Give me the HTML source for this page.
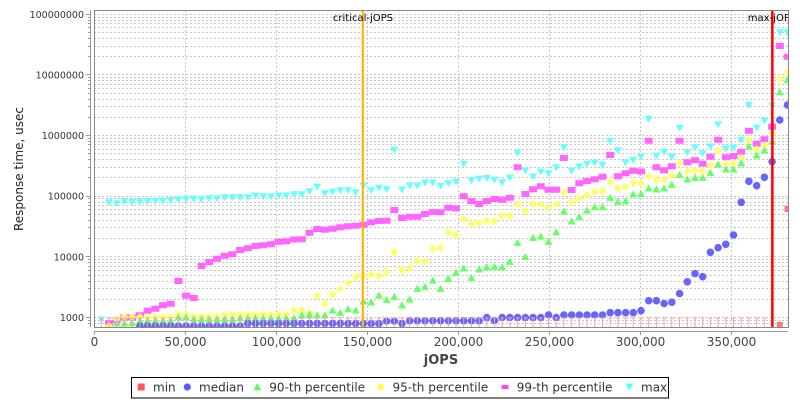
<!DOCTYPE html>
<html><head><meta charset="utf-8"><style>
body{margin:0;background:#fff}
svg{display:block}
text{font-family:"DejaVu Sans","Liberation Sans",sans-serif}
</style></head><body>
<svg width="800" height="400" viewBox="0 0 800 400" xmlns="http://www.w3.org/2000/svg">
<defs><clipPath id="pc"><rect x="94" y="10" width="694" height="317"/></clipPath></defs>
<rect x="0" y="0" width="800" height="400" fill="#fff"/>
<rect x="94" y="10" width="694" height="317" fill="#fff"/>
<g clip-path="url(#pc)">
<path fill="none" stroke="#c8c8c8" stroke-width="1" stroke-dasharray="2,2" d="M94,323.5H788M94,320.5H788M94,317.5H788M94,299.5H788M94,288.5H788M94,281.5H788M94,275.5H788M94,270.5H788M94,266.5H788M94,262.5H788M94,259.5H788M94,256.5H788M94,238.5H788M94,227.5H788M94,220.5H788M94,214.5H788M94,209.5H788M94,205.5H788M94,202.5H788M94,198.5H788M94,196.5H788M94,177.5H788M94,167.5H788M94,159.5H788M94,153.5H788M94,149.5H788M94,144.5H788M94,141.5H788M94,138.5H788M94,135.5H788M94,117.5H788M94,106.5H788M94,99.5H788M94,93.5H788M94,88.5H788M94,84.5H788M94,80.5H788M94,77.5H788M94,74.5H788M94,56.5H788M94,46.5H788M94,38.5H788M94,32.5H788M94,27.5H788M94,23.5H788M94,20.5H788M94,17.5H788M94,14.5H788M185.5,10V327M276.5,10V327M367.5,10V327M458.5,10V327M549.5,10V327M640.5,10V327M731.5,10V327"/>
<!-- max -->
<path fill="#66ffff" d="M97.3,316.5h8l-4,7zM105,199.2h8l-4,7zM112.7,200.2h8l-4,7zM120.4,198.5h8l-4,7zM128.1,198.8h8l-4,7zM135.9,198.5h8l-4,7zM143.6,198.2h8l-4,7zM151.3,197.8h8l-4,7zM159,197.8h8l-4,7zM166.7,197.2h8l-4,7zM174.4,196.5h8l-4,7zM182.1,195.8h8l-4,7zM189.8,195.5h8l-4,7zM197.5,196.2h8l-4,7zM205.2,195.2h8l-4,7zM213,195.2h8l-4,7zM220.7,194.2h8l-4,7zM228.4,194.2h8l-4,7zM236.1,194.2h8l-4,7zM243.8,194.2h8l-4,7zM251.5,192.5h8l-4,7zM259.2,193.2h8l-4,7zM266.9,193.5h8l-4,7zM274.6,192.5h8l-4,7zM282.3,192.5h8l-4,7zM290.1,191.2h8l-4,7zM297.8,191.2h8l-4,7zM305.5,188.2h8l-4,7zM313.2,183.8h8l-4,7zM320.9,190.2h8l-4,7zM328.6,188.5h8l-4,7zM336.3,187.2h8l-4,7zM344,187.2h8l-4,7zM351.7,189.2h8l-4,7zM359.4,182.5h8l-4,7zM367.2,187.2h8l-4,7zM374.9,184.8h8l-4,7zM382.6,186.2h8l-4,7zM390.3,146.5h8l-4,7zM398,186.5h8l-4,7zM405.7,182.5h8l-4,7zM413.4,182.5h8l-4,7zM421.1,179.5h8l-4,7zM428.8,179.5h8l-4,7zM436.5,182.8h8l-4,7zM444.3,180.2h8l-4,7zM452,178.8h8l-4,7zM459.7,160.8h8l-4,7zM467.4,177.2h8l-4,7zM475.1,175.8h8l-4,7zM482.8,175h8l-4,7zM490.5,176.8h8l-4,7zM498.2,179.2h8l-4,7zM505.9,174.5h8l-4,7zM513.6,149.8h8l-4,7zM521.4,167.5h8l-4,7zM529.1,173.5h8l-4,7zM536.8,168.5h8l-4,7zM544.5,170.2h8l-4,7zM552.2,164.2h8l-4,7zM559.9,144.2h8l-4,7zM567.6,167.8h8l-4,7zM575.3,163.5h8l-4,7zM583,160.8h8l-4,7zM590.7,159.5h8l-4,7zM598.5,161.8h8l-4,7zM606.2,137.8h8l-4,7zM613.9,147.2h8l-4,7zM621.6,159.2h8l-4,7zM629.3,157h8l-4,7zM637,153.5h8l-4,7zM644.7,115.8h8l-4,7zM652.4,152.5h8l-4,7zM660.1,148.8h8l-4,7zM667.8,153.8h8l-4,7zM675.6,124.8h8l-4,7zM683.3,149.2h8l-4,7zM691,144.5h8l-4,7zM698.7,150.2h8l-4,7zM706.4,143.5h8l-4,7zM714.1,121.2h8l-4,7zM721.8,145.5h8l-4,7zM729.5,144.5h8l-4,7zM737.2,136.8h8l-4,7zM744.9,101.8h8l-4,7zM752.7,124.8h8l-4,7zM760.4,117.5h8l-4,7zM768.1,102.5h8l-4,7zM775.8,29.2h8l-4,7zM783.5,29.2h8l-4,7z"/>
<!-- 99th -->
<path fill="#ff66ff" d="M105,320.3h8v6h-8zM112.7,317.3h8v6h-8zM120.4,314.5h8v6h-8zM128.1,314.5h8v6h-8zM135.9,312.2h8v6h-8zM143.6,307.7h8v6h-8zM151.3,305.7h8v6h-8zM159,302.3h8v6h-8zM166.7,300.7h8v6h-8zM174.4,278h8v6h-8zM182.1,292.7h8v6h-8zM189.8,295h8v6h-8zM197.5,263h8v6h-8zM205.2,259h8v6h-8zM213,255.7h8v6h-8zM220.7,252.7h8v6h-8zM228.4,251.3h8v6h-8zM236.1,247h8v6h-8zM243.8,245.3h8v6h-8zM251.5,243h8v6h-8zM259.2,242.3h8v6h-8zM266.9,241.3h8v6h-8zM274.6,238.7h8v6h-8zM282.3,238.3h8v6h-8zM290.1,236.5h8v6h-8zM297.8,236.3h8v6h-8zM305.5,229.7h8v6h-8zM313.2,226h8v6h-8zM320.9,226.7h8v6h-8zM328.6,225.7h8v6h-8zM336.3,224.3h8v6h-8zM344,223.3h8v6h-8zM351.7,222.7h8v6h-8zM359.4,221.7h8v6h-8zM367.2,219.3h8v6h-8zM374.9,218h8v6h-8zM382.6,217.7h8v6h-8zM390.3,207h8v6h-8zM398,215h8v6h-8zM405.7,213.7h8v6h-8zM413.4,213.7h8v6h-8zM421.1,211h8v6h-8zM428.8,209h8v6h-8zM436.5,209.3h8v6h-8zM444.3,204.7h8v6h-8zM452,205.3h8v6h-8zM459.7,193.3h8v6h-8zM467.4,198h8v6h-8zM475.1,201h8v6h-8zM482.8,198h8v6h-8zM490.5,196h8v6h-8zM498.2,196.7h8v6h-8zM505.9,194.7h8v6h-8zM513.6,164.3h8v6h-8zM521.4,191h8v6h-8zM529.1,186.3h8v6h-8zM536.8,183.3h8v6h-8zM544.5,186.7h8v6h-8zM552.2,186.7h8v6h-8zM559.9,155h8v6h-8zM567.6,187h8v6h-8zM575.3,180.3h8v6h-8zM583,178h8v6h-8zM590.7,176.3h8v6h-8zM598.5,173.7h8v6h-8zM606.2,152h8v6h-8zM613.9,173.3h8v6h-8zM621.6,170.3h8v6h-8zM629.3,167.7h8v6h-8zM637,168.5h8v6h-8zM644.7,137.7h8v6h-8zM652.4,164.3h8v6h-8zM660.1,167.3h8v6h-8zM667.8,163.3h8v6h-8zM675.6,137.7h8v6h-8zM683.3,159.3h8v6h-8zM691,157.3h8v6h-8zM698.7,160.7h8v6h-8zM706.4,153.7h8v6h-8zM714.1,136.7h8v6h-8zM721.8,154.3h8v6h-8zM729.5,153h8v6h-8zM737.2,148.7h8v6h-8zM744.9,127.7h8v6h-8zM752.7,140.7h8v6h-8zM760.4,136.3h8v6h-8zM768.1,123.7h8v6h-8zM775.8,43h8v6h-8zM783.5,53.7h8v6h-8z"/>
<!-- 95th -->
<path fill="#ffff66" d="M109,322l4,4-4,4-4-4zM116.7,315l4,4-4,4-4-4zM124.4,313l4,4-4,4-4-4zM132.1,313l4,4-4,4-4-4zM139.9,313l4,4-4,4-4-4zM147.6,313l4,4-4,4-4-4zM155.3,313l4,4-4,4-4-4zM163,313l4,4-4,4-4-4zM170.7,313l4,4-4,4-4-4zM178.4,310.5l4,4-4,4-4-4zM186.1,310.5l4,4-4,4-4-4zM193.8,312.5l4,4-4,4-4-4zM201.5,312.5l4,4-4,4-4-4zM209.2,312.5l4,4-4,4-4-4zM217,312.5l4,4-4,4-4-4zM224.7,310.5l4,4-4,4-4-4zM232.4,310.5l4,4-4,4-4-4zM240.1,310.5l4,4-4,4-4-4zM247.8,310.5l4,4-4,4-4-4zM255.5,310.5l4,4-4,4-4-4zM263.2,310.5l4,4-4,4-4-4zM270.9,310.5l4,4-4,4-4-4zM278.6,310.5l4,4-4,4-4-4zM286.3,310.5l4,4-4,4-4-4zM294.1,306.5l4,4-4,4-4-4zM301.8,306.3l4,4-4,4-4-4zM309.5,309l4,4-4,4-4-4zM317.2,291.7l4,4-4,4-4-4zM324.9,299.7l4,4-4,4-4-4zM332.6,290.7l4,4-4,4-4-4zM340.3,284.7l4,4-4,4-4-4zM348,279l4,4-4,4-4-4zM355.7,273l4,4-4,4-4-4zM363.4,272l4,4-4,4-4-4zM371.2,270.7l4,4-4,4-4-4zM378.9,272l4,4-4,4-4-4zM386.6,268.3l4,4-4,4-4-4zM394.3,248.3l4,4-4,4-4-4zM402,266.3l4,4-4,4-4-4zM409.7,263.7l4,4-4,4-4-4zM417.4,256.7l4,4-4,4-4-4zM425.1,257.7l4,4-4,4-4-4zM432.8,245l4,4-4,4-4-4zM440.5,243.7l4,4-4,4-4-4zM448.3,228.7l4,4-4,4-4-4zM456,231l4,4-4,4-4-4zM463.7,215.3l4,4-4,4-4-4zM471.4,220l4,4-4,4-4-4zM479.1,219l4,4-4,4-4-4zM486.8,216.5l4,4-4,4-4-4zM494.5,217l4,4-4,4-4-4zM502.2,211.7l4,4-4,4-4-4zM509.9,211.7l4,4-4,4-4-4zM517.6,200.3l4,4-4,4-4-4zM525.4,207l4,4-4,4-4-4zM533.1,199.7l4,4-4,4-4-4zM540.8,200.3l4,4-4,4-4-4zM548.5,203.7l4,4-4,4-4-4zM556.2,200.3l4,4-4,4-4-4zM563.9,188.3l4,4-4,4-4-4zM571.6,197.7l4,4-4,4-4-4zM579.3,194.3l4,4-4,4-4-4zM587,191l4,4-4,4-4-4zM594.7,187.7l4,4-4,4-4-4zM602.5,187.3l4,4-4,4-4-4zM610.2,178l4,4-4,4-4-4zM617.9,184.3l4,4-4,4-4-4zM625.6,183l4,4-4,4-4-4zM633.3,179l4,4-4,4-4-4zM641,179.3l4,4-4,4-4-4zM648.7,172.3l4,4-4,4-4-4zM656.4,175.7l4,4-4,4-4-4zM664.1,175.7l4,4-4,4-4-4zM671.8,171.7l4,4-4,4-4-4zM679.6,159.3l4,4-4,4-4-4zM687.3,167.3l4,4-4,4-4-4zM695,166.7l4,4-4,4-4-4zM702.7,166.7l4,4-4,4-4-4zM710.4,161.3l4,4-4,4-4-4zM718.1,147l4,4-4,4-4-4zM725.8,159.7l4,4-4,4-4-4zM733.5,159l4,4-4,4-4-4zM741.2,153.7l4,4-4,4-4-4zM748.9,136l4,4-4,4-4-4zM756.7,145.3l4,4-4,4-4-4zM764.4,141.3l4,4-4,4-4-4zM772.1,129.3l4,4-4,4-4-4zM779.8,75.3l4,4-4,4-4-4zM787.5,68l4,4-4,4-4-4z"/>
<!-- 90th -->
<path fill="#66ff66" d="M116.7,319.5l4,7h-8zM124.4,319.5l4,7h-8zM132.1,319.2l4,7h-8zM139.9,316.7l4,7h-8zM147.6,316.7l4,7h-8zM155.3,316.7l4,7h-8zM163,316.7l4,7h-8zM170.7,316.7l4,7h-8zM178.4,313.5l4,7h-8zM186.1,313.5l4,7h-8zM193.8,315.2l4,7h-8zM201.5,315.2l4,7h-8zM209.2,315.2l4,7h-8zM217,315.2l4,7h-8zM224.7,315.2l4,7h-8zM232.4,315.2l4,7h-8zM240.1,314.2l4,7h-8zM247.8,314.2l4,7h-8zM255.5,314.2l4,7h-8zM263.2,314.2l4,7h-8zM270.9,314.2l4,7h-8zM278.6,314.2l4,7h-8zM286.3,314.2l4,7h-8zM294.1,314.2l4,7h-8zM301.8,311.2l4,7h-8zM309.5,310.5l4,7h-8zM317.2,311.2l4,7h-8zM324.9,311.2l4,7h-8zM332.6,306.5l4,7h-8zM340.3,308.9l4,7h-8zM348,305.2l4,7h-8zM355.7,306.5l4,7h-8zM363.4,297.5l4,7h-8zM371.2,298.5l4,7h-8zM378.9,291.5l4,7h-8zM386.6,295.9l4,7h-8zM394.3,292.9l4,7h-8zM402,301.5l4,7h-8zM409.7,295.5l4,7h-8zM417.4,284.9l4,7h-8zM425.1,282.9l4,7h-8zM432.8,276.5l4,7h-8zM440.5,284.9l4,7h-8zM448.3,274.9l4,7h-8zM456,268.9l4,7h-8zM463.7,264.5l4,7h-8zM471.4,273.9l4,7h-8zM479.1,265.5l4,7h-8zM486.8,263.2l4,7h-8zM494.5,262.9l4,7h-8zM502.2,263.2l4,7h-8zM509.9,257.9l4,7h-8zM517.6,238.9l4,7h-8zM525.4,252.9l4,7h-8zM533.1,233.9l4,7h-8zM540.8,232.5l4,7h-8zM548.5,237.9l4,7h-8zM556.2,228.2l4,7h-8zM563.9,207.5l4,7h-8zM571.6,217.5l4,7h-8zM579.3,212.9l4,7h-8zM587,206.5l4,7h-8zM594.7,203.2l4,7h-8zM602.5,203.2l4,7h-8zM610.2,193.9l4,7h-8zM617.9,197.9l4,7h-8zM625.6,197.2l4,7h-8zM633.3,190.4l4,7h-8zM641,190l4,7h-8zM648.7,184.5l4,7h-8zM656.4,185.5l4,7h-8zM664.1,184.5l4,7h-8zM671.8,180.9l4,7h-8zM679.6,170.9l4,7h-8zM687.3,175.5l4,7h-8zM695,173.9l4,7h-8zM702.7,173.9l4,7h-8zM710.4,168.9l4,7h-8zM718.1,160.5l4,7h-8zM725.8,165.5l4,7h-8zM733.5,165.5l4,7h-8zM741.2,159.5l4,7h-8zM748.9,142.5l4,7h-8zM756.7,151.5l4,7h-8zM764.4,146.5l4,7h-8zM772.1,137.5l4,7h-8zM779.8,88.2l4,7h-8zM787.5,75.9l4,7h-8z"/>
<!-- median -->
<path fill="none" stroke="#6666ff" stroke-width="7.6" stroke-linecap="round" d="M139.9,326h0M147.6,326h0M155.3,326h0M163,326h0M170.7,326h0M178.4,326h0M186.1,326h0M193.8,326h0M201.5,326h0M209.2,326h0M217,326h0M224.7,326h0M232.4,326h0M240.1,326h0M247.8,323.5h0M255.5,323.5h0M263.2,323.5h0M270.9,323.5h0M278.6,323.5h0M286.3,323.5h0M294.1,323.5h0M301.8,323.5h0M309.5,323.5h0M317.2,323.5h0M324.9,323.5h0M332.6,323.5h0M340.3,323.5h0M348,323.5h0M355.7,323.5h0M363.4,323.5h0M371.2,323.5h0M378.9,323.5h0M386.6,321h0M394.3,321h0M402,323.5h0M409.7,320.7h0M417.4,320.7h0M425.1,320.7h0M432.8,320.7h0M440.5,320.7h0M448.3,320.7h0M456,320.7h0M463.7,320.7h0M471.4,320.7h0M479.1,320.7h0M486.8,317.7h0M494.5,320.5h0M502.2,317.5h0M509.9,317.5h0M517.6,317.5h0M525.4,317.5h0M533.1,317.5h0M540.8,317.5h0M548.5,315h0M556.2,317.5h0M563.9,315h0M571.6,315h0M579.3,315h0M587,315h0M594.7,315h0M602.5,315h0M610.2,312.7h0M617.9,312.7h0M625.6,312.7h0M633.3,312.7h0M641,310.7h0M648.7,300.7h0M656.4,300.7h0M664.1,303.5h0M671.8,302.2h0M679.6,293.5h0M687.3,281.8h0M695,273.6h0M702.7,276.7h0M710.4,252.3h0M718.1,247.7h0M725.8,244.3h0M733.5,235h0M741.2,202.3h0M748.9,181.3h0M756.7,185.7h0M764.4,177.3h0M772.1,161.7h0M779.8,120h0M787.5,105h0"/>
<!-- min -->
<path fill="none" stroke="#ffa0a0" stroke-width="1" d="M101.3,318v9m-2-9h4M109,318v9m-2-9h4M116.7,318v9m-2-9h4M124.4,318v9m-2-9h4M132.1,318v9m-2-9h4M139.9,318v9m-2-9h4M147.6,318v9m-2-9h4M155.3,318v9m-2-9h4M163,318v9m-2-9h4M170.7,318v9m-2-9h4M178.4,318v9m-2-9h4M186.1,318v9m-2-9h4M193.8,318v9m-2-9h4M201.5,318v9m-2-9h4M209.2,318v9m-2-9h4M217,318v9m-2-9h4M224.7,318v9m-2-9h4M232.4,318v9m-2-9h4M240.1,318v9m-2-9h4M247.8,318v9m-2-9h4M255.5,318v9m-2-9h4M263.2,318v9m-2-9h4M270.9,318v9m-2-9h4M278.6,318v9m-2-9h4M286.3,318v9m-2-9h4M294.1,318v9m-2-9h4M301.8,318v9m-2-9h4M309.5,318v9m-2-9h4M317.2,318v9m-2-9h4M324.9,318v9m-2-9h4M332.6,318v9m-2-9h4M340.3,318v9m-2-9h4M348,318v9m-2-9h4M355.7,318v9m-2-9h4M363.4,318v9m-2-9h4M371.2,318v9m-2-9h4M378.9,318v9m-2-9h4M386.6,318v9m-2-9h4M394.3,318v9m-2-9h4M402,318v9m-2-9h4M409.7,318v9m-2-9h4M417.4,318v9m-2-9h4M425.1,318v9m-2-9h4M432.8,318v9m-2-9h4M440.5,318v9m-2-9h4M448.3,318v9m-2-9h4M456,318v9m-2-9h4M463.7,318v9m-2-9h4M471.4,318v9m-2-9h4M479.1,318v9m-2-9h4M486.8,318v9m-2-9h4M494.5,318v9m-2-9h4M502.2,318v9m-2-9h4M509.9,318v9m-2-9h4M517.6,318v9m-2-9h4M525.4,318v9m-2-9h4M533.1,318v9m-2-9h4M540.8,318v9m-2-9h4M548.5,318v9m-2-9h4M556.2,318v9m-2-9h4M563.9,318v9m-2-9h4M571.6,318v9m-2-9h4M579.3,318v9m-2-9h4M587,318v9m-2-9h4M594.7,318v9m-2-9h4M602.5,318v9m-2-9h4M610.2,318v9m-2-9h4M617.9,318v9m-2-9h4M625.6,318v9m-2-9h4M633.3,318v9m-2-9h4M641,318v9m-2-9h4M648.7,318v9m-2-9h4M656.4,318v9m-2-9h4M664.1,318v9m-2-9h4M671.8,318v9m-2-9h4M679.6,318v9m-2-9h4M687.3,318v9m-2-9h4M695,318v9m-2-9h4M702.7,318v9m-2-9h4M710.4,318v9m-2-9h4M718.1,318v9m-2-9h4M725.8,318v9m-2-9h4M733.5,318v9m-2-9h4M741.2,318v9m-2-9h4M748.9,318v9m-2-9h4M756.7,318v9m-2-9h4M764.4,318v9m-2-9h4"/>
<rect x="776.8" y="322" width="6" height="6" fill="#ff7777"/>
<rect x="784.5" y="206" width="6" height="6" fill="#ff7777"/>
<!-- markers -->
<rect x="361.7" y="10" width="2.2" height="317" fill="#ffb400"/>
<rect x="771.1" y="10" width="2.5" height="317" fill="#ff0000"/>
<text x="363" y="21" font-size="10" text-anchor="middle" fill="#000">critical-jOPS</text>
<text x="772" y="21" font-size="10" text-anchor="middle" fill="#000">max-jOPS</text>
</g>
<rect x="94.5" y="10.5" width="694" height="317" fill="none" stroke="#888" stroke-width="1"/>
<!-- y axis -->
<path fill="none" stroke="#999" stroke-width="1" d="M90.5,10V327M86,14.5h4.5M86,74.5h4.5M86,135.5h4.5M86,196.5h4.5M86,256.5h4.5M86,317.5h4.5M88,17.5h2.5M88,20.5h2.5M88,23.5h2.5M88,27.5h2.5M88,32.5h2.5M88,38.5h2.5M88,46.5h2.5M88,56.5h2.5M88,77.5h2.5M88,80.5h2.5M88,84.5h2.5M88,88.5h2.5M88,93.5h2.5M88,99.5h2.5M88,106.5h2.5M88,117.5h2.5M88,138.5h2.5M88,141.5h2.5M88,144.5h2.5M88,149.5h2.5M88,153.5h2.5M88,159.5h2.5M88,167.5h2.5M88,177.5h2.5M88,198.5h2.5M88,202.5h2.5M88,205.5h2.5M88,209.5h2.5M88,214.5h2.5M88,220.5h2.5M88,227.5h2.5M88,238.5h2.5M88,259.5h2.5M88,262.5h2.5M88,266.5h2.5M88,270.5h2.5M88,275.5h2.5M88,281.5h2.5M88,288.5h2.5M88,299.5h2.5M88,320.5h2.5M88,323.5h2.5"/>
<g font-size="9.5" fill="#333" text-anchor="end">
<text x="84" y="17.8">100000000</text>
<text x="84" y="78.4">10000000</text>
<text x="84" y="139.1">1000000</text>
<text x="84" y="199.7">100000</text>
<text x="84" y="260.4">10000</text>
<text x="84" y="321">1000</text>
</g>
<text transform="translate(23,169) rotate(-90)" font-size="12" text-anchor="middle" fill="#222">Response time, usec</text>
<!-- x axis -->
<path fill="none" stroke="#999" stroke-width="1" d="M94,331.5H788M94.5,331v4M185.5,331v4M276.5,331v4M367.5,331v4M458.5,331v4M549.5,331v4M640.5,331v4M731.5,331v4"/>
<g font-size="12" fill="#444" text-anchor="middle">
<text x="94.5" y="346">0</text>
<text x="185.5" y="346">50,000</text>
<text x="276.5" y="346">100,000</text>
<text x="367.5" y="346">150,000</text>
<text x="458.5" y="346">200,000</text>
<text x="549.5" y="346">250,000</text>
<text x="640.5" y="346">300,000</text>
<text x="731.5" y="346">350,000</text>
</g>
<text x="441" y="364" font-size="13" font-weight="bold" text-anchor="middle" fill="#444">jOPS</text>
<!-- legend -->
<rect x="131.5" y="377.5" width="537" height="20.5" fill="#fff" stroke="#000" stroke-width="1"/>
<rect x="137.7" y="383.5" width="7" height="7" fill="#ff5a5a"/>
<circle cx="187.3" cy="387" r="3.6" fill="#5a5aff"/>
<path fill="#5aff5a" d="M257.3,383l4,7.2h-8z"/>
<path fill="#ffff44" d="M380.7,383l4,4-4,4-4-4z"/>
<rect x="501.5" y="385" width="7" height="4" fill="#ff44ff"/>
<path fill="#55ffff" d="M625.5,383.5h8l-4,7z"/>
<g font-size="12" fill="#333">
<text x="153" y="391.5">min</text>
<text x="199" y="391.5">median</text>
<text x="269.3" y="391.5">90-th percentile</text>
<text x="392.5" y="391.5">95-th percentile</text>
<text x="516.7" y="391.5">99-th percentile</text>
<text x="641" y="391.5">max</text>
</g>
</svg>
</body></html>
